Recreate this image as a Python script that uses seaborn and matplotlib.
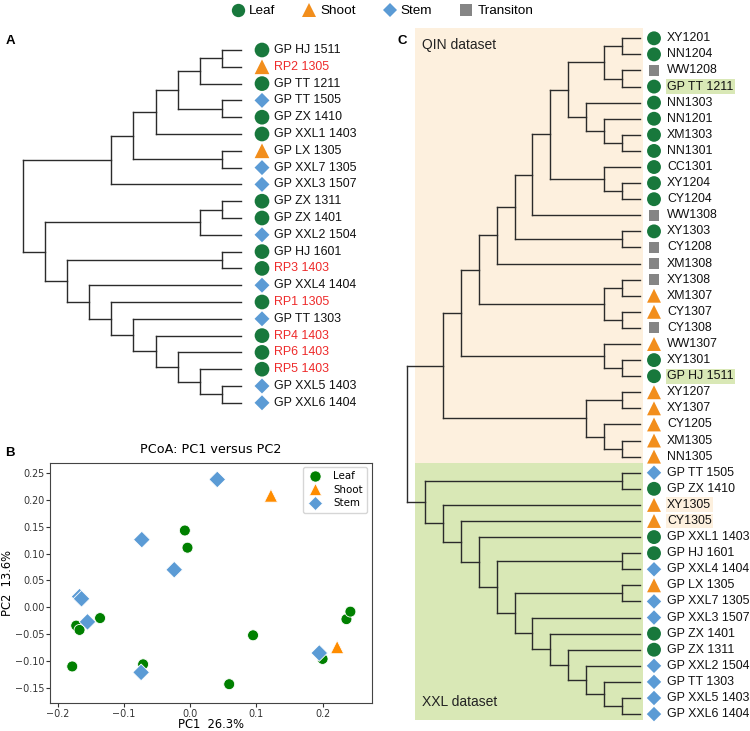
import numpy as np
import pandas as pd
import matplotlib
matplotlib.use("Agg")
import matplotlib.pyplot as plt
import seaborn as sns
from matplotlib.lines import Line2D
from matplotlib.patches import Rectangle
from matplotlib.collections import LineCollection

# ======================= DATA =======================
tissue_order = ["Leaf", "Shoot", "Stem", "Transiton"]

# ---- Panel A: dendrogram leaves (top to bottom) ----
a_labels = ["GP HJ 1511", "RP2 1305", "GP TT 1211", "GP TT 1505", "GP ZX 1410",
            "GP XXL1 1403", "GP LX 1305", "GP XXL7 1305", "GP XXL3 1507",
            "GP ZX 1311", "GP ZX 1401", "GP XXL2 1504", "GP HJ 1601", "RP3 1403",
            "GP XXL4 1404", "RP1 1305", "GP TT 1303", "RP4 1403", "RP6 1403",
            "RP5 1403", "GP XXL5 1403", "GP XXL6 1404"]
a_tissue = ["Leaf", "Shoot", "Leaf", "Stem", "Leaf", "Leaf", "Shoot", "Stem", "Stem",
            "Leaf", "Leaf", "Stem", "Leaf", "Leaf", "Stem", "Leaf", "Stem", "Leaf",
            "Leaf", "Leaf", "Stem", "Stem"]
a_red_labels = ["RP2 1305", "RP3 1403", "RP1 1305", "RP4 1403", "RP6 1403", "RP5 1403"]
# merges: (node, child1, child2, node level)
a_merges = [
    ("a1", "GP HJ 1511", "RP2 1305", 9),
    ("a2", "a1", "GP TT 1211", 8),
    ("a3", "GP TT 1505", "GP ZX 1410", 9),
    ("a4", "a2", "a3", 7),
    ("a5", "a4", "GP XXL1 1403", 6),
    ("a6", "GP LX 1305", "GP XXL7 1305", 9),
    ("a7", "a5", "a6", 5),
    ("a8", "a7", "GP XXL3 1507", 4),
    ("b1", "GP ZX 1311", "GP ZX 1401", 9),
    ("b2", "b1", "GP XXL2 1504", 8),
    ("c1", "GP HJ 1601", "RP3 1403", 9),
    ("c2", "GP XXL5 1403", "GP XXL6 1404", 9),
    ("c3", "RP5 1403", "c2", 8),
    ("c4", "RP6 1403", "c3", 7),
    ("c5", "RP4 1403", "c4", 6),
    ("c6", "GP TT 1303", "c5", 5),
    ("c7", "RP1 1305", "c6", 4),
    ("c8", "GP XXL4 1404", "c7", 3),
    ("c9", "c1", "c8", 2),
    ("b3", "b2", "c9", 1),
    ("root", "a8", "b3", 0),
]

# ---- Panel B: PCoA ----
b_leaf_pc1 = [-0.008, -0.004, -0.136, -0.172, -0.167, -0.178, -0.071, 0.059, 0.095, 0.200, 0.236, 0.242]
b_leaf_pc2 = [0.143, 0.111, -0.020, -0.034, -0.042, -0.110, -0.106, -0.143, -0.052, -0.096, -0.022, -0.008]
b_shoot_pc1 = [0.122, 0.222]
b_shoot_pc2 = [0.208, -0.074]
b_stem_pc1 = [0.041, -0.073, -0.024, -0.167, -0.164, -0.155, -0.074, 0.195]
b_stem_pc2 = [0.238, 0.126, 0.070, 0.020, 0.016, -0.027, -0.121, -0.085]
b_xticks = [-0.2, -0.1, 0.0, 0.1, 0.2]
b_yticks = [-0.15, -0.10, -0.05, 0.00, 0.05, 0.10, 0.15, 0.20, 0.25]

# ---- Panel C: dendrogram leaves (top to bottom) ----
c_labels = ["XY1201", "NN1204", "WW1208", "GP TT 1211", "NN1303", "NN1201", "XM1303",
            "NN1301", "CC1301", "XY1204", "CY1204", "WW1308", "XY1303", "CY1208",
            "XM1308", "XY1308", "XM1307", "CY1307", "CY1308", "WW1307", "XY1301",
            "GP HJ 1511", "XY1207", "XY1307", "CY1205", "XM1305", "NN1305",
            "GP TT 1505", "GP ZX 1410", "XY1305", "CY1305", "GP XXL1 1403",
            "GP HJ 1601", "GP XXL4 1404", "GP LX 1305", "GP XXL7 1305", "GP XXL3 1507",
            "GP ZX 1401", "GP ZX 1311", "GP XXL2 1504", "GP TT 1303", "GP XXL5 1403",
            "GP XXL6 1404"]
c_tissue = ["Leaf", "Leaf", "Transiton", "Leaf", "Leaf", "Leaf", "Leaf", "Leaf", "Leaf",
            "Leaf", "Leaf", "Transiton", "Leaf", "Transiton", "Transiton", "Transiton",
            "Shoot", "Shoot", "Transiton", "Shoot", "Leaf", "Leaf", "Shoot", "Shoot",
            "Shoot", "Shoot", "Shoot", "Stem", "Leaf", "Shoot", "Shoot", "Leaf", "Leaf",
            "Stem", "Shoot", "Stem", "Stem", "Leaf", "Leaf", "Stem", "Stem", "Stem", "Stem"]
c_dataset_names = ["QIN dataset", "XXL dataset"]
c_highlight = {"GP TT 1211": "XXL", "GP HJ 1511": "XXL", "XY1305": "QIN", "CY1305": "QIN"}
c_merges = [
    ("q1", "XY1201", "NN1204", 12),
    ("q2", "WW1208", "GP TT 1211", 12),
    ("q3", "q1", "q2", 11),
    ("q4", "XM1303", "NN1301", 12),
    ("q5", "NN1201", "q4", 11),
    ("q6", "NN1303", "q5", 10),
    ("q7", "q3", "q6", 9),
    ("q8", "XY1204", "CY1204", 12),
    ("q9", "CC1301", "q8", 11),
    ("q10", "q7", "q9", 8),
    ("q11", "q10", "WW1308", 7),
    ("q12", "XY1303", "CY1208", 12),
    ("q13", "q11", "q12", 6),
    ("q14", "q13", "XM1308", 5),
    ("q15", "XY1308", "XM1307", 12),
    ("q16", "CY1307", "CY1308", 12),
    ("q17", "q15", "q16", 11),
    ("q18", "q14", "q17", 4),
    ("q19", "XY1301", "GP HJ 1511", 12),
    ("q20", "WW1307", "q19", 11),
    ("q21", "q18", "q20", 3),
    ("q22", "XY1207", "XY1307", 12),
    ("q23", "XM1305", "NN1305", 12),
    ("q24", "CY1205", "q23", 11),
    ("q25", "q22", "q24", 10),
    ("q26", "q21", "q25", 2),
    ("x1", "GP TT 1505", "GP ZX 1410", 12),
    ("x2", "GP XXL5 1403", "GP XXL6 1404", 12),
    ("x3", "GP TT 1303", "x2", 11),
    ("x4", "GP XXL2 1504", "x3", 10),
    ("x5", "GP ZX 1311", "x4", 9),
    ("x6", "GP ZX 1401", "x5", 8),
    ("x7", "GP XXL3 1507", "x6", 7),
    ("x8a", "GP LX 1305", "GP XXL7 1305", 12),
    ("x8", "x8a", "x7", 6),
    ("x9a", "GP HJ 1601", "GP XXL4 1404", 12),
    ("x9", "x9a", "x8", 5),
    ("x10", "GP XXL1 1403", "x9", 4),
    ("x11", "CY1305", "x10", 3),
    ("x12", "XY1305", "x11", 2),
    ("x13", "x1", "x12", 1),
    ("root", "q26", "x13", 0),
]

# ======================= STYLE =======================
W, H = 750, 731
tree_palette = {"Leaf": "#18783c", "Shoot": "#f28e1c", "Stem": "#5b9bd5", "Transiton": "#858585"}
tree_markers = {"Leaf": "o", "Shoot": "^", "Stem": "D", "Transiton": "s"}
a_sizes = {"Leaf": 112, "Shoot": 112, "Stem": 58, "Transiton": 64}
c_sizes = {"Leaf": 100, "Shoot": 100, "Stem": 54, "Transiton": 62}
b_palette = {"Leaf": "#008000", "Shoot": "#ff8c00", "Stem": "#5b9bd5"}
b_markers = {"Leaf": "o", "Shoot": "^", "Stem": "D"}
b_sizes = {"Leaf": 62, "Shoot": 90, "Stem": 72}
qin_bg = "#fdf0de"
xxl_bg = "#d9e8b6"
ARIAL = "Liberation Sans"
line_col = "#2b2b2b"

plt.rcParams["font.family"] = ["DejaVu Sans"]
fig = plt.figure(figsize=(W / 100, H / 100), dpi=100)


def px_axes(left, top, right, bottom):
    return fig.add_axes([left / W, 1 - bottom / H, (right - left) / W, (bottom - top) / H])


def tree_segments(leaves, merges, leaf_level):
    ypos = {n: i for i, n in enumerate(leaves)}
    xpos = {n: leaf_level for n in leaves}
    segs = []
    for node, c1, c2, lvl in merges:
        ypos[node] = (ypos[c1] + ypos[c2]) / 2
        xpos[node] = lvl
        segs.append([(lvl, ypos[c1]), (lvl, ypos[c2])])
        segs.append([(lvl, ypos[c1]), (xpos[c1], ypos[c1])])
        segs.append([(lvl, ypos[c2]), (xpos[c2], ypos[c2])])
    return segs


# ======================= PANEL A =======================
axA = px_axes(0, 25, 380, 425)
a_root_px, a_step = 22.7, 22.15
a_y0, a_dy = 50.0, 16.8
axA.set_xlim((0 - a_root_px) / a_step, (380 - a_root_px) / a_step)
axA.set_ylim((425 - a_y0) / a_dy, (25 - a_y0) / a_dy)
a_leaf_end = (241 - a_root_px) / a_step
a_mark_x = (262 - a_root_px) / a_step
a_text_x = (274 - a_root_px) / a_step
axA.add_collection(LineCollection(tree_segments(a_labels, a_merges, a_leaf_end),
                                  colors=line_col, linewidths=1.0, capstyle="projecting"))
dfA = pd.DataFrame({"x": a_mark_x, "y": np.arange(len(a_labels)), "tissue": a_tissue})
sns.scatterplot(data=dfA, x="x", y="y", hue="tissue", style="tissue", size="tissue",
                palette=tree_palette, markers=tree_markers, sizes=a_sizes,
                linewidth=0, legend=False, ax=axA, zorder=3)
for i, lab in enumerate(a_labels):
    axA.text(a_text_x, i, lab, va="center", ha="left", fontsize=8.9, family=ARIAL,
             color="#ee2a2a" if lab in a_red_labels else "#111111")
axA.set_axis_off()

# ======================= PANEL B =======================
axB = px_axes(50, 463, 372, 703)
dfB = pd.DataFrame({
    "PC1": b_leaf_pc1 + b_shoot_pc1 + b_stem_pc1,
    "PC2": b_leaf_pc2 + b_shoot_pc2 + b_stem_pc2,
    "tissue": ["Leaf"] * len(b_leaf_pc1) + ["Shoot"] * len(b_shoot_pc1) + ["Stem"] * len(b_stem_pc1),
})
sns.scatterplot(data=dfB, x="PC1", y="PC2", hue="tissue", style="tissue", size="tissue",
                palette=b_palette, markers=b_markers, sizes=b_sizes,
                linewidth=0.6, edgecolor="white", legend=False, ax=axB)
axB.set_xlim(-0.2116, 0.2746)
axB.set_ylim(-0.178, 0.2686)
axB.set_xticks(b_xticks)
axB.set_yticks(b_yticks)
axB.set_xticklabels([f"{v:.1f}".replace("-", "\u2212") for v in b_xticks])
axB.set_yticklabels([f"{v:.2f}".replace("-", "\u2212") for v in b_yticks])
axB.tick_params(labelsize=6.9, length=2.6, width=0.8, pad=1.5, colors="#333333")
axB.set_xlabel("PC1  26.3%", fontsize=8.3)
axB.set_ylabel("PC2  13.6%", fontsize=8.3)
axB.xaxis.set_label_coords(0.5, -(724 - 703) / 240)
axB.yaxis.set_label_coords(-(50 - 8) / 322, 0.5)
axB.xaxis.label.set_va("center")
axB.yaxis.label.set_va("center")
axB.set_title("PCoA: PC1 versus PC2", fontsize=9.2, pad=7)
for s in axB.spines.values():
    s.set_color("#444444")
b_handles = [Line2D([], [], linestyle="", marker=b_markers[t], color=b_palette[t],
                    markeredgecolor="white", markeredgewidth=0.5,
                    markersize={"Leaf": 8, "Shoot": 8.5, "Stem": 7.2}[t]) for t in ["Leaf", "Shoot", "Stem"]]
axB.legend(b_handles, ["Leaf", "Shoot", "Stem"], loc="upper right", bbox_to_anchor=(0.985, 0.985),
           borderaxespad=0, fontsize=7.4, handletextpad=0.9, handlelength=1.6,
           labelspacing=0.35, borderpad=0.45)

# ======================= PANEL C =======================
axC = px_axes(380, 20, 750, 731)
c_root_px, c_step = 407.0, 17.92
c_y0, c_dy = 38.3, 16.09
axC.set_xlim((380 - c_root_px) / c_step, (750 - c_root_px) / c_step)
axC.set_ylim((731 - c_y0) / c_dy, (20 - c_y0) / c_dy)
c_leaf_end = (640 - c_root_px) / c_step
c_mark_x = (654 - c_root_px) / c_step
c_text_x = (667 - c_root_px) / c_step
bx0 = (415 - c_root_px) / c_step
bx1 = (643 - c_root_px) / c_step
b_top = (28 - c_y0) / c_dy
b_mid = (462.7 - c_y0) / c_dy
b_bot = (720 - c_y0) / c_dy
axC.add_patch(Rectangle((bx0, b_top), bx1 - bx0, b_mid - b_top, fc=qin_bg, ec="none", zorder=0))
axC.add_patch(Rectangle((bx0, b_mid), bx1 - bx0, b_bot - b_mid, fc=xxl_bg, ec="none", zorder=0))
axC.text((422 - c_root_px) / c_step, (45 - c_y0) / c_dy, c_dataset_names[0], va="center", ha="left",
         fontsize=10, family=ARIAL, color="#222222")
axC.text((422 - c_root_px) / c_step, (702 - c_y0) / c_dy, c_dataset_names[1], va="center", ha="left",
         fontsize=10, family=ARIAL, color="#222222")
axC.add_collection(LineCollection(tree_segments(c_labels, c_merges, c_leaf_end),
                                  colors=line_col, linewidths=1.0, capstyle="projecting", zorder=2))
dfC = pd.DataFrame({"x": c_mark_x, "y": np.arange(len(c_labels)), "tissue": c_tissue})
sns.scatterplot(data=dfC, x="x", y="y", hue="tissue", style="tissue", size="tissue",
                palette=tree_palette, markers=tree_markers, sizes=c_sizes,
                linewidth=0, legend=False, ax=axC, zorder=3)
for i, lab in enumerate(c_labels):
    kw = {}
    if lab in c_highlight:
        kw["bbox"] = dict(boxstyle="square,pad=0.12", fc=xxl_bg if c_highlight[lab] == "XXL" else qin_bg, ec="none")
    axC.text(c_text_x, i, lab, va="center", ha="left", fontsize=8.9, family=ARIAL,
             color="#111111", **kw)
axC.set_axis_off()

# ======================= TOP LEGEND & PANEL LETTERS =======================
top_ms = {"Leaf": 9.6, "Shoot": 9.6, "Stem": 7.2, "Transiton": 9.0}
top_handles = [Line2D([], [], linestyle="", marker=tree_markers[t], color=tree_palette[t],
                      markeredgewidth=0, markersize=top_ms[t]) for t in tissue_order]
fig.legend(top_handles, tissue_order, loc="center", bbox_to_anchor=(381 / W, 1 - 11 / H), ncol=4,
           frameon=False, prop={"family": ARIAL, "size": 9.7}, handletextpad=0.15,
           columnspacing=1.9, handlelength=1.3, borderpad=0, borderaxespad=0)

for letter, (xp, yp) in zip(["A", "B", "C"], [(10, 41), (10, 453), (402, 41)]):
    fig.text(xp / W, 1 - yp / H, letter, ha="center", va="center", fontsize=9.5,
             fontweight="bold", family=ARIAL)

fig.savefig("out.png", dpi=100)
